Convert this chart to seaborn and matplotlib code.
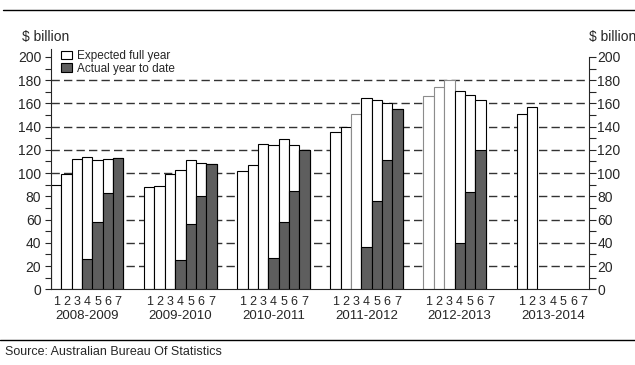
import matplotlib
matplotlib.use("Agg")
import matplotlib.pyplot as plt
from matplotlib.lines import Line2D
import numpy as np
import pandas as pd
import seaborn as sns

# values ($ billion)
years = ["2008-2009", "2009-2010", "2010-2011", "2011-2012", "2012-2013", "2013-2014"]
periods = [1, 2, 3, 4, 5, 6, 7]

expected_full_year = [
    [90, 99, 112, 114, 111, 112, 113],
    [88, 89, 99, 103, 111, 109, 108],
    [102, 107, 125, 124, 129, 124, 120],
    [135, 140, 151, 165, 163, 160, 155],
    [166, 174, 180, 171, 167, 163, None],
    [151, 157, None, None, None, None, None],
]
actual_year_to_date = [
    [None, None, None, 26, 58, 83, 113],
    [None, None, None, 25, 56, 80, 108],
    [None, None, None, 27, 58, 85, 120],
    [None, None, None, 36, 76, 111, 155],
    [None, None, None, 40, 84, 120, None],
    [None, None, None, None, None, None, None],
]

# bars drawn with a grey outline in the original
grey_edged = {("2011-2012", 3), ("2012-2013", 1), ("2012-2013", 2), ("2012-2013", 3)}

# slot order: 7 periods per year, then two empty slots between years
order = []
for i, yr in enumerate(years):
    order += [f"{yr}|{p}" for p in periods]
    if i < len(years) - 1:
        order += [f"gap{i}a", f"gap{i}b"]


def long_df(values):
    rows = []
    for yr, vals in zip(years, values):
        for p, v in zip(periods, vals):
            if v is not None:
                rows.append({"slot": f"{yr}|{p}", "year": yr, "period": p, "value": v})
    return pd.DataFrame(rows)


df_exp = long_df(expected_full_year)
df_act = long_df(actual_year_to_date)

sns.set_style("ticks")
plt.rcParams["font.family"] = ["Liberation Sans", "DejaVu Sans"]
plt.rcParams["font.size"] = 10

fig = plt.figure(figsize=(6.35, 3.65), dpi=100)
ax = fig.add_axes([51 / 635, 75.7 / 365, 538 / 635, 240.5 / 365])

for lvl in range(20, 200, 20):
    ax.axhline(lvl, color="#333333", lw=1.0, ls=(0, (6, 3)), zorder=0)

sns.barplot(data=df_exp, x="slot", y="value", order=order, color="white",
            edgecolor="black", linewidth=0.8, width=1, errorbar=None,
            saturation=1, label="Expected full year", ax=ax, zorder=2)
n_exp = len(ax.patches)
sns.barplot(data=df_act, x="slot", y="value", order=order, color="#5e5e5e",
            edgecolor="black", linewidth=0.8, width=1, errorbar=None,
            saturation=1, label="Actual year to date", ax=ax, zorder=3)

# grey outlines on a few of the expected bars
for patch, (_, row) in zip(ax.patches[:n_exp], df_exp.iterrows()):
    if (row["year"], row["period"]) in grey_edged:
        patch.set_edgecolor("#8c8c8c")

ax.set_xlim(-0.5, len(order) - 0.5)
ax.set_ylim(0, 207)
ax.set_xlabel("")
ax.set_ylabel("")

ax.set_xticks(range(len(order)))
ax.set_xticklabels([s.split("|")[1] if "|" in s else "" for s in order], fontsize=9)
ax.tick_params(axis="x", length=0, pad=5)
for yr in years:
    ax.text(order.index(f"{yr}|4"), -0.088, yr, transform=ax.get_xaxis_transform(),
            ha="center", va="top", fontsize=9.5)

ax.set_yticks(range(0, 201, 20))
ax.set_yticks(range(10, 200, 20), minor=True)
ax.tick_params(axis="y", which="both", direction="out", length=4, width=0.8,
               pad=3, labelsize=10)

ax2 = ax.twinx()
ax2.set_ylim(ax.get_ylim())
ax2.set_yticks(range(0, 201, 20))
ax2.set_yticks(range(10, 200, 20), minor=True)
ax2.tick_params(axis="y", which="both", direction="out", length=5, width=0.8,
                pad=1, labelsize=10)
ax2.spines["right"].set_bounds(0, 200)

for a in (ax, ax2):
    a.spines["top"].set_visible(False)
    for s in a.spines.values():
        s.set_linewidth(0.8)
ax2.spines["left"].set_visible(False)
ax2.spines["bottom"].set_visible(False)
ax.spines["right"].set_visible(False)

fig.text(22 / 635, 1 - 36.5 / 365, "$ billion", ha="left", va="center", fontsize=10)
fig.text(589 / 635, 1 - 36.5 / 365, "$ billion", ha="left", va="center", fontsize=10)

ax.legend(loc="upper left", bbox_to_anchor=(0.018, 0.995), frameon=False,
          handlelength=1.0, handleheight=0.7, handletextpad=0.4,
          labelspacing=0.05, borderpad=0, borderaxespad=0, fontsize=8.5)

fig.add_artist(Line2D([3 / 635, 1], [1 - 10 / 365] * 2, transform=fig.transFigure,
                      color="black", lw=1))
fig.add_artist(Line2D([0, 1], [1 - 340 / 365] * 2, transform=fig.transFigure,
                      color="black", lw=1))
fig.text(5 / 635, 1 - 352 / 365, "Source: Australian Bureau Of Statistics",
         ha="left", va="center", fontsize=9)

fig.savefig("out.png", dpi=100)
